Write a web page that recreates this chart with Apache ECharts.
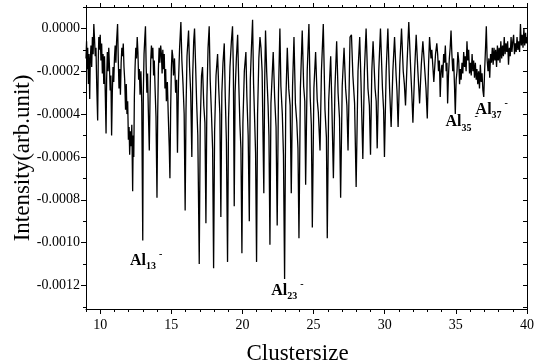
<!DOCTYPE html>
<html>
<head>
<meta charset="utf-8">
<script src="https://cdn.jsdelivr.net/npm/echarts@6/dist/echarts.min.js"></script>
<style>
html,body{margin:0;padding:0;background:#fff;}
#chart{width:537px;height:364px;}
</style>
</head>
<body>
<div id="chart"></div>
<script>
// ---- data: [cluster size, intensity (arb. unit)] ----
const spectrumPoints = [
[9.00,-1.4e-4],[9.04,-0.6e-4],[9.08,-1.9e-4],[9.12,-0.9e-4],[9.17,-2.6e-4],[9.21,-1.2e-4],[9.26,-3.3e-4],[9.30,-1.5e-4],
[9.35,-0.8e-4],[9.40,-1.8e-4],[9.45,-0.4e-4],[9.50,-1.2e-4],[9.55,0.2e-4],[9.60,-0.5e-4],[9.65,-1.3e-4],[9.70,-0.9e-4],
[9.76,-2.8e-4],[9.82,-4.3e-4],[9.86,-1.6e-4],[9.90,-0.4e-4],[9.95,-1.0e-4],[10.00,-0.3e-4],[10.05,-1.5e-4],[10.10,-0.7e-4],
[10.15,-2.1e-4],[10.20,-1.2e-4],[10.25,-2.6e-4],[10.30,-1.3e-4],[10.36,-3.2e-4],[10.41,-4.9e-4],[10.45,-2.4e-4],[10.50,-1.1e-4],
[10.55,-2.0e-4],[10.60,-0.9e-4],[10.65,-1.8e-4],[10.70,-2.9e-4],[10.75,-2.2e-4],[10.80,-5.0e-4],[10.85,-3.0e-4],[10.90,-1.8e-4],
[10.95,-2.5e-4],[11.00,-1.4e-4],[11.05,-0.8e-4],[11.10,-1.6e-4],[11.15,-0.6e-4],[11.22,0.2e-4],[11.27,-1.5e-4],[11.32,-2.8e-4],
[11.37,-1.9e-4],[11.42,-3.1e-4],[11.47,-1.6e-4],[11.52,-0.9e-4],[11.57,-1.3e-4],[11.62,-0.7e-4],[11.67,-1.8e-4],[11.72,-2.4e-4],
[11.78,-3.8e-4],[11.83,-2.6e-4],[11.88,-4.0e-4],[11.93,-3.4e-4],[11.98,-5.2e-4],[12.03,-4.6e-4],[12.07,-5.9e-4],[12.12,-4.8e-4],
[12.17,-5.5e-4],[12.22,-4.5e-4],[12.28,-7.6e-4],[12.32,-5.0e-4],[12.36,-6.0e-4],[12.40,-3.2e-4],[12.45,-1.8e-4],[12.50,-0.9e-4],
[12.55,-1.4e-4],[12.60,-0.4e-4],[12.65,-1.1e-4],[12.70,-2.4e-4],[12.75,-1.9e-4],[12.80,-3.1e-4],[12.86,-2.0e-4],[12.92,-3.5e-4],
[12.99,-9.9e-4],[13.03,-3.0e-4],[13.08,-1.2e-4],[13.13,-0.5e-4],[13.18,0.1e-4],[13.23,-1.8e-4],[13.28,-3.0e-4],[13.33,-2.1e-4],
[13.38,-3.8e-4],[13.45,-5.7e-4],[13.50,-3.3e-4],[13.55,-1.5e-4],[13.60,-0.8e-4],[13.65,-1.4e-4],[13.70,-0.9e-4],[13.75,-2.2e-4],
[13.80,-1.5e-4],[13.86,-2.9e-4],[13.92,-4.1e-4],[13.99,-7.9e-4],[14.04,-4.0e-4],[14.09,-1.9e-4],[14.14,-0.9e-4],[14.19,-1.6e-4],
[14.25,-0.8e-4],[14.30,-1.2e-4],[14.35,-2.1e-4],[14.40,-1.0e-4],[14.45,-1.9e-4],[14.50,-1.2e-4],[14.55,-2.8e-4],[14.60,-1.9e-4],
[14.65,-3.4e-4],[14.72,-2.5e-4],[14.78,-4.0e-4],[14.85,-5.5e-4],[14.90,-7.0e-4],[14.95,-3.8e-4],[15.00,-1.9e-4],[15.05,-1.0e-4],
[15.10,-1.3e-4],[15.15,-2.2e-4],[15.22,-1.4e-4],[15.30,-3.0e-4],[15.37,-2.4e-4],[15.43,-5.8e-4],[15.50,-2.5e-4],[15.58,-0.9e-4],
[15.67,0.3e-4],[15.74,-1.5e-4],[15.82,-2.6e-4],[15.90,-4.0e-4],[15.97,-8.5e-4],[16.03,-3.8e-4],[16.10,-1.3e-4],[16.21,-0.1e-4],
[16.28,-1.8e-4],[16.36,-3.0e-4],[16.44,-6.0e-4],[16.50,-2.2e-4],[16.57,-0.6e-4],[16.63,0.0],[16.70,-1.6e-4],[16.78,-3.5e-4],
[16.86,-5.0e-4],[16.96,-11.0e-4],[17.03,-4.5e-4],[17.12,-2.2e-4],[17.19,-1.8e-4],[17.28,-3.6e-4],[17.36,-4.4e-4],[17.43,-9.1e-4],
[17.50,-3.2e-4],[17.58,-0.9e-4],[17.66,0.1e-4],[17.73,-2.4e-4],[17.82,-4.0e-4],[17.90,-5.6e-4],[17.97,-11.2e-4],[18.04,-4.8e-4],
[18.14,-2.2e-4],[18.25,-1.2e-4],[18.33,-2.8e-4],[18.41,-4.0e-4],[18.48,-8.8e-4],[18.55,-3.0e-4],[18.63,-1.6e-4],[18.72,-0.7e-4],
[18.79,-3.2e-4],[18.87,-5.3e-4],[18.95,-10.9e-4],[19.02,-4.2e-4],[19.12,-1.8e-4],[19.22,-0.6e-4],[19.30,0.1e-4],[19.36,-2.0e-4],
[19.42,-8.3e-4],[19.48,-3.0e-4],[19.57,-1.4e-4],[19.66,-0.3e-4],[19.74,-2.6e-4],[19.82,-4.5e-4],[19.89,-5.6e-4],[19.96,-10.5e-4],
[20.03,-4.4e-4],[20.13,-2.0e-4],[20.24,-1.1e-4],[20.31,-3.2e-4],[20.40,-5.0e-4],[20.48,-9.0e-4],[20.55,-2.4e-4],[20.63,-0.9e-4],
[20.71,0.4e-4],[20.78,-2.6e-4],[20.86,-4.4e-4],[20.92,-5.8e-4],[20.99,-10.9e-4],[21.06,-4.0e-4],[21.15,-1.4e-4],[21.23,-0.4e-4],
[21.30,-0.9e-4],[21.38,-2.0e-4],[21.50,-7.7e-4],[21.56,-2.5e-4],[21.62,-0.1e-4],[21.70,-2.0e-4],[21.80,-3.6e-4],[21.86,-5.0e-4],
[21.93,-10.1e-4],[22.00,-3.5e-4],[22.16,-1.1e-4],[22.26,-3.2e-4],[22.36,-4.6e-4],[22.44,-9.2e-4],[22.53,-3.0e-4],[22.63,0.0],
[22.70,-2.7e-4],[22.80,-4.0e-4],[22.88,-5.9e-4],[22.96,-11.7e-4],[23.04,-3.6e-4],[23.15,-0.9e-4],[23.25,-2.8e-4],[23.35,-3.6e-4],
[23.43,-7.7e-4],[23.52,-2.7e-4],[23.62,-0.4e-4],[23.72,-3.5e-4],[23.82,-4.4e-4],[23.90,-5.6e-4],[23.97,-9.8e-4],[24.07,-2.8e-4],
[24.20,-0.1e-4],[24.30,-2.7e-4],[24.38,-3.4e-4],[24.44,-7.3e-4],[24.55,-2.0e-4],[24.67,0.2e-4],[24.76,-3.2e-4],[24.84,-4.5e-4],
[24.91,-9.3e-4],[25.02,-2.8e-4],[25.14,-1.1e-4],[25.25,-3.3e-4],[25.33,-3.9e-4],[25.45,-5.7e-4],[25.55,-2.0e-4],[25.68,0.2e-4],
[25.80,-3.8e-4],[25.90,-5.1e-4],[25.96,-9.8e-4],[26.06,-3.4e-4],[26.20,-1.3e-4],[26.28,-3.5e-4],[26.39,-7.0e-4],[26.50,-2.8e-4],
[26.62,-0.6e-4],[26.72,-3.0e-4],[26.82,-4.2e-4],[26.90,-7.9e-4],[27.01,-2.7e-4],[27.14,-0.9e-4],[27.25,-2.8e-4],[27.34,-3.6e-4],
[27.42,-5.7e-4],[27.56,-0.4e-4],[27.66,-0.3e-4],[27.76,-2.2e-4],[27.88,-3.5e-4],[27.99,-7.4e-4],[28.12,-2.0e-4],[28.24,-0.4e-4],
[28.33,-2.5e-4],[28.46,-6.1e-4],[28.57,-2.0e-4],[28.69,0.0],[28.82,-2.8e-4],[28.92,-3.6e-4],[29.00,-5.9e-4],[29.09,-2.0e-4],
[29.18,-0.6e-4],[29.32,-2.8e-4],[29.40,-3.4e-4],[29.47,-5.6e-4],[29.58,-2.0e-4],[29.70,0.0],[29.84,-2.8e-4],[29.92,-3.8e-4],
[29.98,-6.0e-4],[30.10,-2.0e-4],[30.22,0.0],[30.34,-2.8e-4],[30.45,-4.6e-4],[30.57,-2.0e-4],[30.69,-0.4e-4],[30.80,-2.2e-4],
[30.86,-2.9e-4],[30.94,-4.6e-4],[31.06,-1.7e-4],[31.18,0.0],[31.30,-2.0e-4],[31.38,-2.6e-4],[31.46,-3.6e-4],[31.57,-1.6e-4],
[31.69,0.3e-4],[31.83,-2.0e-4],[31.90,-3.0e-4],[31.98,-4.4e-4],[32.10,-2.0e-4],[32.21,-0.3e-4],[32.33,-2.0e-4],[32.45,-3.5e-4],
[32.57,-1.7e-4],[32.68,-0.6e-4],[32.82,-2.0e-4],[32.90,-2.8e-4],[32.99,-4.2e-4],[33.08,-1.7e-4],[33.15,-0.4e-4],[33.25,-1.4e-4],
[33.31,-1.0e-4],[33.45,-2.5e-4],[33.57,-1.2e-4],[33.66,-0.7e-4],[33.72,-1.2e-4],[33.78,-2.0e-4],[33.84,-1.5e-4],[33.90,-3.2e-4],
[33.96,-2.0e-4],[34.02,-1.7e-4],[34.08,-2.3e-4],[34.14,-1.2e-4],[34.20,-1.6e-4],[34.26,-0.8e-4],[34.32,-2.0e-4],[34.37,-1.6e-4],
[34.42,-3.5e-4],[34.48,-2.2e-4],[34.54,-1.4e-4],[34.60,-0.9e-4],[34.66,-0.1e-4],[34.72,-1.2e-4],[34.78,-2.0e-4],[34.84,-1.4e-4],
[34.90,-2.6e-4],[34.96,-4.0e-4],[35.02,-2.4e-4],[35.08,-2.0e-4],[35.14,-1.1e-4],[35.20,-1.5e-4],[35.26,-2.6e-4],[35.31,-1.9e-4],
[35.37,-2.4e-4],[35.43,-1.6e-4],[35.49,-2.1e-4],[35.55,-1.1e-4],[35.61,-1.8e-4],[35.66,-1.3e-4],[35.72,-2.0e-4],[35.78,-0.6e-4],
[35.84,-1.5e-4],[35.90,-1.0e-4],[35.96,-2.1e-4],[36.02,-1.6e-4],[36.08,-2.2e-4],[36.14,-1.2e-4],[36.20,-2.0e-4],[36.25,-1.5e-4],
[36.31,-2.3e-4],[36.37,-1.6e-4],[36.43,-2.4e-4],[36.48,-1.9e-4],[36.54,-2.6e-4],[36.60,-2.0e-4],[36.66,-2.8e-4],[36.72,-1.7e-4],
[36.78,-2.5e-4],[36.84,-2.1e-4],[36.90,-2.9e-4],[36.96,-3.2e-4],[37.02,-2.0e-4],[37.08,-1.0e-4],[37.14,0.1e-4],[37.20,-1.5e-4],
[37.26,-2.0e-4],[37.32,-1.4e-4],[37.38,-2.3e-4],[37.44,-1.2e-4],[37.50,-1.6e-4],[37.56,-0.9e-4],[37.62,-1.7e-4],[37.68,-0.9e-4],
[37.74,-1.5e-4],[37.80,-1.0e-4],[37.86,-1.8e-4],[37.92,-0.8e-4],[37.98,-1.5e-4],[38.04,-0.9e-4],[38.10,-1.6e-4],[38.16,-0.6e-4],
[38.22,-1.4e-4],[38.28,-0.8e-4],[38.34,-1.3e-4],[38.40,-0.4e-4],[38.46,-1.2e-4],[38.52,-0.7e-4],[38.58,-1.1e-4],[38.64,-0.6e-4],
[38.70,-1.7e-4],[38.76,-0.9e-4],[38.82,-1.3e-4],[38.88,-0.4e-4],[38.94,-1.1e-4],[39.00,-0.6e-4],[39.06,-0.3e-4],[39.12,-1.2e-4],
[39.18,-0.7e-4],[39.24,-1.1e-4],[39.30,-0.4e-4],[39.36,-1.0e-4],[39.42,-0.6e-4],[39.48,-1.1e-4],[39.54,0.2e-4],[39.60,-0.8e-4],
[39.66,-0.3e-4],[39.72,-0.9e-4],[39.78,0.0],[39.84,-0.8e-4],[39.90,-0.2e-4],[39.95,-0.7e-4],[40.00,-0.4e-4]
];

// x-axis ticks
const xMajorTicks = [10, 15, 20, 25, 30, 35, 40];
const xMinorTicks = [9,10,11,12,13,14,15,16,17,18,19,20,21,22,23,24,25,26,27,28,29,30,31,32,33,34,35,36,37,38,39,40];
// y-axis ticks
const yMajorTicks = [0, -0.0002, -0.0004, -0.0006, -0.0008, -0.0010, -0.0012];
const yMinorTicks = [0.0001, -0.0001, -0.0003, -0.0005, -0.0007, -0.0009, -0.0011, -0.0013];
const yAllTicks = [0.0001, 0, -0.0001, -0.0002, -0.0003, -0.0004, -0.0005, -0.0006, -0.0007, -0.0008, -0.0009, -0.0010, -0.0011, -0.0012, -0.0013];

// peak annotations: cluster size label and anchor (data units)
const peakLabels = ['13', '23', '35', '37'];
const peakLabelX = [12.05, 21.98, 34.23, 36.35];
const peakLabelY = [-0.001083, -0.001223, -0.000437, -0.000378];

const X_MIN = 9, X_MAX = 40, Y_MIN = -0.00131, Y_MAX = 0.0001;
const FONT = "'Liberation Serif', 'Times New Roman', serif";

const chart = echarts.init(document.getElementById('chart'), null, {renderer: 'canvas'});

function xAxisCfg(pos, ticks, len, showLine, extra) {
  return Object.assign({
    type: 'value', position: pos, min: X_MIN, max: X_MAX,
    axisLine: {show: showLine, onZero: false, lineStyle: {color: '#000', width: 1}},
    axisTick: {show: true, customValues: ticks, length: len, inside: false, lineStyle: {color: '#000', width: 1}},
    axisLabel: {show: false},
    splitLine: {show: false}
  }, extra || {});
}
function yAxisCfg(pos, ticks, len, inside, showLine, extra) {
  return Object.assign({
    type: 'value', position: pos, min: Y_MIN, max: Y_MAX,
    axisLine: {show: showLine, onZero: false, lineStyle: {color: '#000', width: 1}},
    axisTick: {show: true, customValues: ticks, length: len, inside: inside, lineStyle: {color: '#000', width: 1}},
    axisLabel: {show: false},
    splitLine: {show: false}
  }, extra || {});
}

const option = {
  animation: false,
  backgroundColor: '#fff',
  grid: {left: 86, right: 10, top: 7, bottom: 55, containLabel: false, outerBoundsMode: 'none'},
  xAxis: [
    xAxisCfg('bottom', xMajorTicks, 5, true, {
      name: 'Clustersize', nameLocation: 'middle', nameGap: 33,
      nameTextStyle: {fontFamily: FONT, fontSize: 23, color: '#000', padding: [0, 18, 0, 0]},
      axisLabel: {show: true, customValues: xMajorTicks, margin: 9, fontFamily: FONT, fontSize: 14, color: '#000'}
    }),
    xAxisCfg('bottom', xMinorTicks, 3, false),
    xAxisCfg('top', xMajorTicks, 4, true),
    xAxisCfg('top', xMinorTicks, 2, false)
  ],
  yAxis: [
    yAxisCfg('left', yMajorTicks, 5, false, true, {
      name: 'Intensity(arb.unit)', nameLocation: 'middle', nameGap: 52, nameRotate: 90, nameMoveOverlap: false,
      nameTextStyle: {fontFamily: FONT, fontSize: 23, color: '#000'},
      axisLabel: {show: true, customValues: yMajorTicks, margin: 6, fontFamily: FONT, fontSize: 14, color: '#000',
        formatter: v => (Math.abs(v) < 1e-12 ? 0 : v).toFixed(4)}
    }),
    yAxisCfg('left', yMinorTicks, 3, false, false),
    yAxisCfg('right', yAllTicks, 4, true, true)
  ],
  series: [
    {
      type: 'line', name: 'spectrum', xAxisIndex: 0, yAxisIndex: 0,
      data: spectrumPoints, showSymbol: false, symbol: 'none',
      lineStyle: {color: '#000', width: 1.3}, silent: true
    },
    {
      type: 'scatter', name: 'labels', xAxisIndex: 0, yAxisIndex: 0,
      symbolSize: 1, silent: true,
      itemStyle: {color: '#fff', opacity: 0},
      data: peakLabels.map((n, i) => ({value: [peakLabelX[i], peakLabelY[i]], name: n})),
      label: {
        show: true, position: 'right', distance: 0, color: '#000', opacity: 1,
        formatter: p => '{a|Al}{b|' + p.name + '}{c|-}',
        rich: {
          a: {fontFamily: FONT, fontWeight: 'bold', fontSize: 16, color: '#000', opacity: 1, lineHeight: 22, verticalAlign: 'middle'},
          b: {fontFamily: FONT, fontWeight: 'bold', fontSize: 10, color: '#000', opacity: 1, lineHeight: 22, verticalAlign: 'bottom'},
          c: {fontFamily: FONT, fontWeight: 'bold', fontSize: 10, color: '#000', opacity: 1, lineHeight: 22, verticalAlign: 'top', padding: [0, 0, 0, 3]}
        }
      }
    }
  ]
};
chart.setOption(option);
</script>
</body>
</html>
